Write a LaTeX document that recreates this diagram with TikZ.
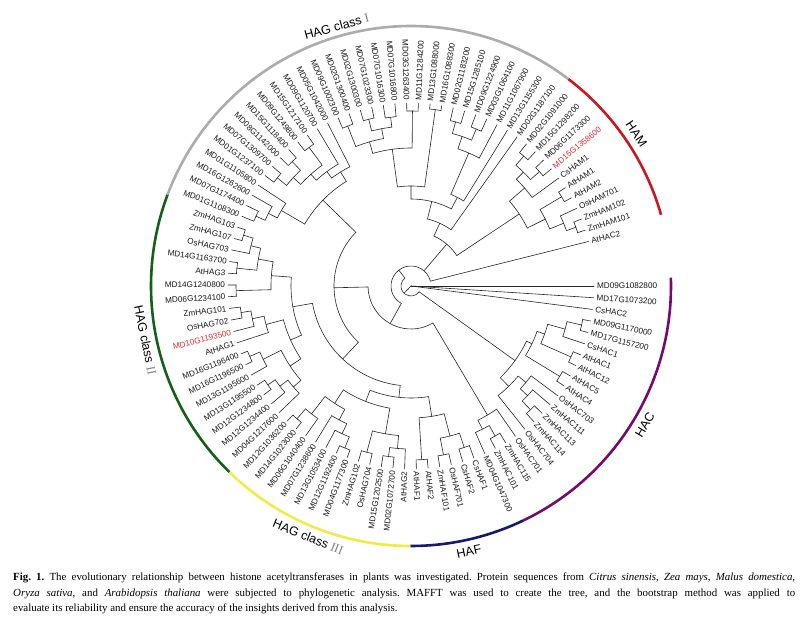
\documentclass[tikz,border=0pt]{standalone}
\usepackage{fontspec}
\setmainfont{Liberation Serif}
\newfontfamily\labfont{Liberation Sans}
\definecolor{labred}{RGB}{225,45,45}
\definecolor{labblk}{RGB}{25,25,25}
\definecolor{hacpur}{RGB}{115,10,110}
\definecolor{hafblue}{RGB}{25,25,105}
\definecolor{hagyel}{RGB}{240,235,70}
\definecolor{haggrn}{RGB}{20,95,25}
\definecolor{haggry}{RGB}{172,172,172}
\definecolor{hamred}{RGB}{200,25,35}
\newcommand\tsp{3.68}
\newcommand\setnode[3]{\expandafter\xdef\csname ti#1\endcsname{#2}\expandafter\xdef\csname tr#1\endcsname{#3}}
\newcommand\leafL[3]{%
  \setnode{L#1}{#1}{183}%
  \pgfmathsetmacro\la{-(#1-1)*\tsp}%
  \coordinate (L#1) at (\la:183pt);
  \pgfmathtruncatemacro\side{cos(\la)>=0?1:0}%
  \ifnum\side=1
    \node[leaflab,text=#3,anchor=west,rotate=\la] (T#1) at (\la:185pt) {#2};
  \else
    \pgfmathsetmacro\lb{\la+180}%
    \node[leaflab,text=#3,anchor=east,rotate=\lb] (T#1) at (\la:185pt) {#2};
  \fi
}
\newcommand\clade[3]{%
  \gdef\clfirst{}%
  \foreach \c in {#3}{\ifx\clfirst\empty\xdef\clfirst{\c}\fi\xdef\cllast{\c}}%
  \pgfmathsetmacro\cia{\csname ti\clfirst\endcsname}%
  \pgfmathsetmacro\cib{\csname ti\cllast\endcsname}%
  \pgfmathsetmacro\cix{(\cia+\cib)/2}%
  \setnode{#1}{\cix}{#2}%
  \pgfmathsetmacro\caa{-(\cia-1)*\tsp}%
  \pgfmathsetmacro\cab{-(\cib-1)*\tsp}%
  \pgfmathsetmacro\cax{-(\cix-1)*\tsp}%
  \coordinate (#1) at (\cax:#2pt);
  \draw[branch] (\caa:#2pt) arc[start angle=\caa, end angle=\cab, radius=#2pt];
  \foreach \c in {#3}{%
    \pgfmathsetmacro\cc{-(\csname ti\c\endcsname-1)*\tsp}%
    \draw[branch] (\cc:#2pt) -- (\c);
  }%
}
\begin{document}
\begin{tikzpicture}[x=1pt,y=1pt,
  branch/.style={line width=0.6pt,draw=black!85,line cap=round},
  leaflab/.style={font=\labfont\fontsize{8.2}{9}\selectfont,inner sep=0.8pt},
  arclab/.style={font=\labfont\fontsize{12.5}{14}\selectfont,inner sep=0pt},
  grparc/.style={line width=2.6pt}]
\fill[white] (0,0) rectangle (807,624);
\useasboundingbox (0,0) rectangle (807,624);
\begin{scope}[shift={(411,338)}]
\leafL{1}{MD09G1082800}{labblk}
\leafL{2}{MD17G1073200}{labblk}
\leafL{3}{CsHAC2}{labblk}
\leafL{4}{MD09G1170000}{labblk}
\leafL{5}{MD17G1157200}{labblk}
\leafL{6}{CsHAC1}{labblk}
\leafL{7}{AtHAC1}{labblk}
\leafL{8}{AtHAC12}{labblk}
\leafL{9}{AtHAC5}{labblk}
\leafL{10}{AtHAC4}{labblk}
\leafL{11}{OsHAC703}{labblk}
\leafL{12}{ZmHAC111}{labblk}
\leafL{13}{ZmHAC113}{labblk}
\leafL{14}{ZmHAC114}{labblk}
\leafL{15}{OsHAC704}{labblk}
\leafL{16}{OsHAC701}{labblk}
\leafL{17}{ZmHAC115}{labblk}
\leafL{18}{ZmHAC101}{labblk}
\leafL{19}{MD04G1047300}{labblk}
\leafL{20}{CsHAF1}{labblk}
\leafL{21}{CsHAF2}{labblk}
\leafL{22}{OsHAF701}{labblk}
\leafL{23}{ZmHAF101}{labblk}
\leafL{24}{AtHAF2}{labblk}
\leafL{25}{AtHAF1}{labblk}
\leafL{26}{AtHAG2}{labblk}
\leafL{27}{MD02G1072700}{labblk}
\leafL{28}{MD15G1202500}{labblk}
\leafL{29}{OsHAG704}{labblk}
\leafL{30}{ZmHAG102}{labblk}
\leafL{31}{MD04G1177300}{labblk}
\leafL{32}{MD12G1192400}{labblk}
\leafL{33}{MD13G1053400}{labblk}
\leafL{34}{MD07G1238600}{labblk}
\leafL{35}{MD06G1040400}{labblk}
\leafL{36}{MD14G1023000}{labblk}
\leafL{37}{MD12G1036200}{labblk}
\leafL{38}{MD04G1217600}{labblk}
\leafL{39}{MD12G1234400}{labblk}
\leafL{40}{MD12G1234800}{labblk}
\leafL{41}{MD13G1195500}{labblk}
\leafL{42}{MD13G1195600}{labblk}
\leafL{43}{MD16G1196500}{labblk}
\leafL{44}{MD16G1196400}{labblk}
\leafL{45}{AtHAG1}{labblk}
\leafL{46}{MD10G1193500}{labred}
\leafL{47}{OsHAG702}{labblk}
\leafL{48}{ZmHAG101}{labblk}
\leafL{49}{MD06G1234100}{labblk}
\leafL{50}{MD14G1240800}{labblk}
\leafL{51}{AtHAG3}{labblk}
\leafL{52}{MD14G1163700}{labblk}
\leafL{53}{OsHAG703}{labblk}
\leafL{54}{ZmHAG107}{labblk}
\leafL{55}{ZmHAG103}{labblk}
\leafL{56}{MD01G1108300}{labblk}
\leafL{57}{MD07G1174400}{labblk}
\leafL{58}{MD16G1262600}{labblk}
\leafL{59}{MD01G1105800}{labblk}
\leafL{60}{MD01G1237100}{labblk}
\leafL{61}{MD07G1309700}{labblk}
\leafL{62}{MD08G1142000}{labblk}
\leafL{63}{MD15G1118400}{labblk}
\leafL{64}{MD09G1249800}{labblk}
\leafL{65}{MD15G1217100}{labblk}
\leafL{66}{MD09G1120700}{labblk}
\leafL{67}{MD05G1042000}{labblk}
\leafL{68}{MD09G1002300}{labblk}
\leafL{69}{MD02G1300400}{labblk}
\leafL{70}{MD02G1300300}{labblk}
\leafL{71}{MD07G1023300}{labblk}
\leafL{72}{MD07G1016300}{labblk}
\leafL{73}{MD07G1016800}{labblk}
\leafL{74}{MD03G1263400}{labblk}
\leafL{75}{MD11G1284200}{labblk}
\leafL{76}{MD13G1088000}{labblk}
\leafL{77}{MD16G1088300}{labblk}
\leafL{78}{MD02G1183200}{labblk}
\leafL{79}{MD15G1285100}{labblk}
\leafL{80}{MD09G1224900}{labblk}
\leafL{81}{MD03G1064100}{labblk}
\leafL{82}{MD11G1067900}{labblk}
\leafL{83}{MD13G1155300}{labblk}
\leafL{84}{MD02G1187100}{labblk}
\leafL{85}{MD02G1091000}{labblk}
\leafL{86}{MD15G1298200}{labblk}
\leafL{87}{MD06G1173300}{labblk}
\leafL{88}{MD15G1358600}{labred}
\leafL{89}{CsHAM1}{labblk}
\leafL{90}{AtHAM1}{labblk}
\leafL{91}{AtHAM2}{labblk}
\leafL{92}{OsHAM701}{labblk}
\leafL{93}{ZmHAM102}{labblk}
\leafL{94}{ZmHAM101}{labblk}
\leafL{95}{AtHAC2}{labblk}
% HAC
\clade{c45}{175}{L4,L5}
\clade{c46}{160}{c45,L6}
\clade{c78}{175}{L7,L8}
\clade{c48}{142}{c46,c78}
\clade{c910}{174}{L9,L10}
\clade{c410}{134}{c48,c910}
\clade{c1314}{172}{L13,L14}
\clade{c1214}{160}{L12,c1314}
\clade{c1114}{150}{L11,c1214}
\clade{c1115}{140}{c1114,L15}
\clade{HAC}{128}{c410,c1115}
\clade{c1718}{172}{L17,L18}
\clade{c1719}{160}{c1718,L19}
\clade{HACb}{150}{L16,c1719}
% HAF
\clade{f2021}{170}{L20,L21}
\clade{f2223}{172}{L22,L23}
\clade{f2023}{155}{f2021,f2223}
\clade{f2425}{174}{L24,L25}
\clade{HAF}{132}{f2023,f2425}
% HAG III
\clade{g2728}{172}{L27,L28}
\clade{g2628}{163}{L26,g2728}
\clade{g2930}{172}{L29,L30}
\clade{g2630}{150}{g2628,g2930}
\clade{g3132}{175}{L31,L32}
\clade{g3133}{163}{g3132,L33}
\clade{g3134}{152}{g3133,L34}
\clade{g3637}{175}{L36,L37}
\clade{g3537}{162}{L35,g3637}
\clade{g3137}{140}{g3134,g3537}
\clade{HAGIII}{124}{g2630,g3137}
\clade{FG}{112}{HAF,HAGIII}
% HAG II
\clade{h4041}{174}{L40,L41}
\clade{h3941}{165}{L39,h4041}
\clade{h3841}{155}{L38,h3941}
\clade{h4344}{176}{L43,L44}
\clade{h4244}{165}{L42,h4344}
\clade{h3844}{145}{h3841,h4244}
\clade{h4748}{172}{L47,L48}
\clade{h4648}{162}{L46,h4748}
\clade{h4548}{150}{L45,h4648}
\clade{h3848}{132}{h3844,h4548}
\clade{h4950}{175}{L49,L50}
\clade{h5152}{175}{L51,L52}
\clade{h5455}{175}{L54,L55}
\clade{h5355}{165}{L53,h5455}
\clade{h5155}{155}{h5152,h5355}
\clade{h4955}{140}{h4950,h5155}
\clade{HAGII}{120}{h3848,h4955}
\clade{P}{100}{FG,HAGII}
% HAG I
\clade{i5657}{170}{L56,L57}
\clade{i5658}{160}{i5657,L58}
\clade{i5659}{150}{i5658,L59}
\clade{i6061}{172}{L60,L61}
\clade{i6263}{172}{L62,L63}
\clade{i6063}{160}{i6061,i6263}
\clade{i6465}{172}{L64,L65}
\clade{i6065}{150}{i6063,i6465}
\clade{i6066}{142}{i6065,L66}
\clade{i6067}{134}{i6066,L67}
\clade{i5667}{123}{i5659,i6067}
\clade{Q}{77}{P,i5667}
\clade{i6869}{172}{L68,L69}
\clade{i7071}{172}{L70,L71}
\clade{i7273}{170}{L72,L73}
\clade{i7073}{160}{i7071,i7273}
\clade{i6873}{150}{i6869,i7073}
\clade{i7475}{175}{L74,L75}
\clade{i6875}{138}{i6873,i7475}
\clade{i7677}{178}{L76,L77}
\clade{W}{100}{i6875,i7677}
\clade{i7879}{170}{L78,L79}
\clade{i8081}{170}{L80,L81}
\clade{i7881}{158}{i7879,i8081}
\clade{i7882}{145}{i7881,L82}
\clade{i7883}{100}{i7882,L83}
\clade{X}{87}{W,i7883}
\clade{Z}{69}{X,L84}
% HAM
\clade{m8586}{172}{L85,L86}
\clade{m8788}{172}{L87,L88}
\clade{m8588}{160}{m8586,m8788}
\clade{m8589}{150}{m8588,L89}
\clade{m9091}{175}{L90,L91}
\clade{m9394}{175}{L93,L94}
\clade{m9294}{165}{L92,m9394}
\clade{m9094}{150}{m9091,m9294}
\clade{HAM}{130}{m8589,m9094}
\clade{U}{55}{Z,HAM}
% inner
\clade{R}{43}{HACb,Q}
\clade{N2}{20}{R,U,L95}
\clade{N1}{10}{HAC,N2}
\coordinate (root) at (0,0);
\foreach \c in {L1,L2,L3,N1} \draw[branch] (root) -- (\c);
% group arcs
\draw[grparc,hacpur] (1.84:260pt) arc[start angle=1.84,end angle=-64.4,radius=260pt];
\draw[grparc,hafblue] (-64.4:260pt) arc[start angle=-64.4,end angle=-90.16,radius=260pt];
\draw[grparc,hagyel] (-90.16:260pt) arc[start angle=-90.16,end angle=-134.32,radius=260pt];
\draw[grparc,haggrn] (-134.32:260pt) arc[start angle=-134.32,end angle=-200.56,radius=260pt];
\draw[grparc,haggry] (-200.56:260pt) arc[start angle=-200.56,end angle=-307.28,radius=260pt];
\draw[grparc,hamred] (-307.28:260pt) arc[start angle=-307.28,end angle=-344.08,radius=260pt];
\node[arclab,rotate=16] (gI) at (106:270pt) {HAG class \textcolor{gray}{\rmfamily I}};
\node[arclab,rotate=-56] (gHAM) at (34:272pt) {HAM};
\node[arclab,rotate=59.3] (gHAC) at (-30.7:272pt) {HAC};
\node[arclab,rotate=12.3] (gHAF) at (-77.7:272pt) {HAF};
\node[arclab,rotate=-22.3] (gIII) at (-112.3:271pt) {HAG class \textcolor{gray}{\rmfamily III}};
\node[arclab,rotate=-78.5] (gII) at (191.5:271pt) {HAG class \textcolor{gray}{\rmfamily II}};
\end{scope}
\node[anchor=north west,text width=782pt,align=justify,inner sep=0pt,
  font=\fontsize{10.9}{15.5}\selectfont] (cap) at (13,51)
{\frenchspacing\textbf{Fig. 1.} The evolutionary relationship between histone acetyltransferases in plants was investigated. Protein sequences from \textit{Citrus sinensis}, \textit{Zea mays}, \textit{Malus domestica},\linebreak
\textit{Oryza sativa}, and \textit{Arabidopsis thaliana} were subjected to phylogenetic analysis. MAFFT was used to create the tree, and the bootstrap method was applied to\linebreak
evaluate its reliability and ensure the accuracy of the insights derived from this analysis.};
\end{tikzpicture}
\end{document}
